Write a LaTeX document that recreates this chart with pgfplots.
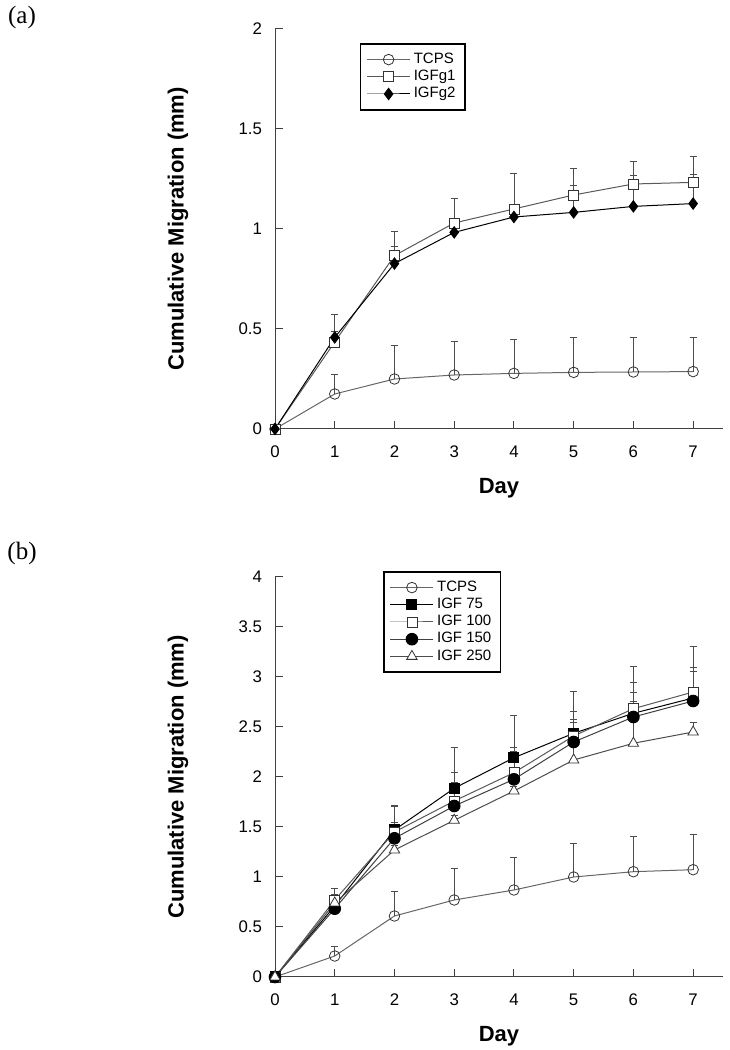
\documentclass[border=0pt]{standalone}
\usepackage{fontspec}
\setmainfont{Liberation Sans}
\newfontfamily\seriffont{Liberation Serif}
\usepackage{pgfplots}
\usepackage{pgfplotstable}
\pgfplotsset{compat=1.18}

% panel (a)
\pgfplotstableread{
x y e
0 0 0
1 0.175 0.10
2 0.25 0.17
3 0.27 0.17
4 0.278 0.17
5 0.283 0.175
6 0.285 0.175
7 0.287 0.173
}\aTCPS
\pgfplotstableread{
x y e
0 0 0
1 0.435 0.137
2 0.867 0.123
3 1.03 0.125
4 1.10 0.18
5 1.17 0.135
6 1.225 0.115
7 1.233 0.129
}\aIGFgone
\pgfplotstableread{
x y e
0 0 0
1 0.458 0.03
2 0.827 0.086
3 0.983 0.05
4 1.06 0.05
5 1.083 0.134
6 1.113 0.157
7 1.127 0.148
}\aIGFgtwo
% panel (b)
\pgfplotstableread{
x y e
0 0 0
1 0.21 0.093
2 0.61 0.243
3 0.77 0.32
4 0.87 0.323
5 1.0 0.333
6 1.053 0.35
7 1.073 0.35
}\bTCPS
\pgfplotstableread{
x y e
0 0 0
1 0.71 0.173
2 1.47 0.25
3 1.887 0.413
4 2.193 0.427
5 2.437 0.416
6 2.637 0.473
7 2.79 0.513
}\bSeventyFive
\pgfplotstableread{
x y e
0 0 0
1 0.77 0.057
2 1.45 0.26
3 1.76 0.283
4 2.043 0.257
5 2.41 0.243
6 2.683 0.26
7 2.85 0.243
}\bHundred
\pgfplotstableread{
x y e
0 0 0
1 0.683 0.05
2 1.387 0.163
3 1.71 0.233
4 1.977 0.276
5 2.35 0.227
6 2.6 0.243
7 2.76 0.293
}\bOneFifty
\pgfplotstableread{
x y e
0 0 0
1 0.74 0.03
2 1.27 0.05
3 1.567 0.05
4 1.86 0.05
5 2.17 0.38
6 2.337 0.423
7 2.45 0.1
}\bTwoFifty

\pgfplotsset{
 myaxis/.style={
  scale only axis, width=224pt, height=200pt,
  xmin=0, xmax=7.5, ymin=0,
  axis x line=bottom, axis y line=left,
  axis line style={-, black!75, line width=0.5pt},
  tick align=inside, major tick length=3.8pt,
  tick style={black!75, line width=0.5pt},
  xtick={0,...,7},
  tick label style={font=\fontsize{8.4}{10}\selectfont},
  /pgf/number format/assume math mode=true,
  xticklabel shift=5pt, yticklabel shift=3pt,
  label style={font=\fontsize{11}{13}\selectfont\bfseries},
  xlabel={Day}, ylabel={Cumulative Migration (mm)},
  xlabel style={at={(axis description cs:0.5,-0.147)},anchor=center},
  ylabel style={at={(axis description cs:-0.2165,0.5)},anchor=center},
  clip=false,
  legend cell align=left,
  legend style={draw=black, line width=0.8pt, fill=white,
     font=\fontsize{7.5}{9}\selectfont, inner xsep=3pt, inner ysep=3.6pt,
     row sep=0pt, nodes={inner ysep=0.8pt, inner xsep=1.6pt, text height=5.4pt, text depth=1.6pt},
     anchor=north west},
  legend image code/.code={\draw[mark repeat=2,mark phase=2] plot coordinates {(0pt,0pt) (10.75pt,0pt) (21.5pt,0pt)};},
  every axis plot/.append style={line width=0.5pt},
  error bars/y dir=plus, error bars/y explicit,
  error bars/error bar style={black!70, line width=0.4pt},
  error bars/error mark options={rotate=90, mark size=1.75pt, black!70, line width=0.4pt},
 },
 sTCPS/.style={black!60, mark=o, mark size=2.65pt, mark options={draw=black!80, fill=white, line width=0.4pt}},
 sOpenSq/.style={black!65, mark=square*, mark size=2.5pt, mark options={draw=black!80, fill=white, line width=0.4pt}},
 sDiamond/.style={black, mark=diamond*, mark size=2.8pt, mark options={draw=black, fill=black}},
 sFillSq/.style={black, mark=square*, mark size=2.5pt, mark options={draw=black, fill=black}},
 sFillCirc/.style={black!75, mark=*, mark size=2.9pt, mark options={draw=black, fill=black}},
 sTri/.style={black!70, mark=triangle*, mark size=3pt, mark options={draw=black!80, fill=white, line width=0.4pt}},
}

\begin{document}
\begin{tikzpicture}
\useasboundingbox (0,0) rectangle (364.5pt,525pt);
\node at (11pt,516.5pt) {\seriffont\fontsize{12.5}{15}\selectfont (a)};
\node at (11pt,248.5pt) {\seriffont\fontsize{12.5}{15}\selectfont (b)};

\begin{axis}[myaxis, at={(137.5pt,310.5pt)}, anchor=south west,
  ymax=2, ytick={0,0.5,1,1.5,2},
  legend style={at={(axis cs:1.42,1.93)}}]
\addplot[sTCPS] table[x=x,y=y,y error=e] {\aTCPS};
\addlegendentry{TCPS}
\addplot[sOpenSq] table[x=x,y=y,y error=e] {\aIGFgone};
\addlegendentry{IGFg1}
\addplot[sDiamond] table[x=x,y=y,y error=e] {\aIGFgtwo};
\addlegendentry{IGFg2}
\end{axis}

\begin{axis}[myaxis, at={(137.5pt,36.5pt)}, anchor=south west,
  ymax=4, ytick={0,0.5,...,4},
  legend style={at={(axis cs:1.81,4.06)}}]
\addplot[sTCPS] table[x=x,y=y,y error=e] {\bTCPS};
\addlegendentry{TCPS}
\addplot[sFillSq] table[x=x,y=y,y error=e] {\bSeventyFive};
\addlegendentry{IGF 75}
\addplot[sOpenSq] table[x=x,y=y,y error=e] {\bHundred};
\addlegendentry{IGF 100}
\addplot[sFillCirc] table[x=x,y=y,y error=e] {\bOneFifty};
\addlegendentry{IGF 150}
\addplot[sTri] table[x=x,y=y,y error=e] {\bTwoFifty};
\addlegendentry{IGF 250}
\end{axis}
\end{tikzpicture}
\end{document}
